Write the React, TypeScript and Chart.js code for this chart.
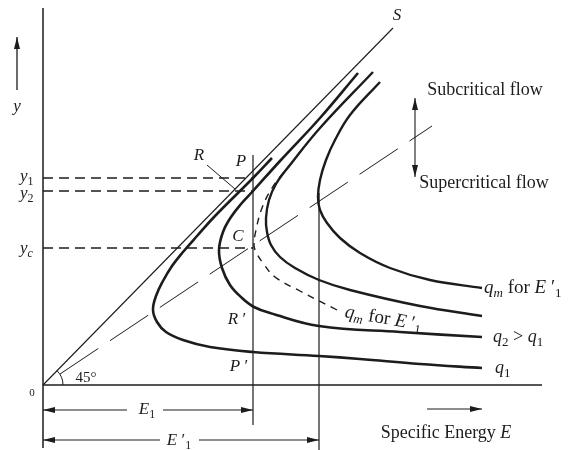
import { useEffect, useRef } from 'react';
import { Chart, registerables } from 'chart.js';

Chart.register(...registerables);

type Pt = [number, number];

// Specific energy E (horizontal) against depth y (vertical), in drawing units.
const q1Curve: Pt[] = [
  [439, 17], [377, 21], [317, 26], [276, 29], [210, 33], [167, 38], [140, 45], [123, 53],
  [114, 63], [110, 75], [113, 89], [120, 104], [129, 119], [140, 133], [154, 149], [172, 169],
  [210, 207], [229, 227],
];
const q2Curve: Pt[] = [
  [439, 48], [357, 53], [276, 59], [227, 72], [211, 78], [199, 87], [187, 100], [179, 117],
  [176, 135], [180, 153], [188, 168], [198, 181], [210, 194], [237, 224], [277, 267], [315, 312],
];
const qmE1Curve: Pt[] = [
  [294, 75], [257, 94], [232, 108], [220, 122], [213, 133], [211, 140], [213, 155], [219, 177],
  [229, 197], [241, 213], [251, 225],
];
const midCurve: Pt[] = [
  [439, 69], [377, 79], [307, 95], [276, 105], [252, 117], [237, 128], [228, 140], [224, 153],
  [223, 167], [226, 185], [233, 201], [247, 220], [277, 257], [330, 313],
];
const qmE1PrimeCurve: Pt[] = [
  [439, 97], [387, 105], [347, 117], [317, 132], [297, 147], [284, 162], [277, 175], [275, 188],
  [277, 205], [283, 225], [292, 245], [307, 270], [337, 303],
];

// Straight construction lines
const sLine: Pt[] = [[0, 0], [350, 357]];
const criticalLine: Pt[] = [[17, 11], [389, 259]];
const yAxis: Pt[] = [[0, 377], [0, -63]];
const xAxis: Pt[] = [[0, 0], [499, 0]];

// Energies and depths marked on the axes
const E1 = 210;
const E1prime = 276;
const depthY1 = 207;
const depthY2 = 194;
const depthYc = 137;

const e1Top = 230;
const e1Bottom = -40;
const e1PrimeTop = 192;
const e1PrimeBottom = -66;
const dimE1 = -25;
const dimE1prime = -55;

type Seg = { t: string; it?: boolean; sub?: boolean };
type Label = { at: Pt; segs: Seg[]; size: number; align: 'left' | 'center'; rot?: number };

const qmForE1p: Seg[] = [
  { t: 'q', it: true }, { t: 'm', it: true, sub: true }, { t: ' for ' },
  { t: 'E', it: true }, { t: ' \u2032' }, { t: '1', sub: true },
];

const labels: Label[] = [
  { at: [354, 369], segs: [{ t: 'S', it: true }], size: 17, align: 'center' },
  { at: [-26, 278], segs: [{ t: 'y', it: true }], size: 17, align: 'center' },
  { at: [-23, 208], segs: [{ t: 'y', it: true }, { t: '1', sub: true }], size: 17, align: 'left' },
  { at: [-23, 191], segs: [{ t: 'y', it: true }, { t: '2', sub: true }], size: 17, align: 'left' },
  { at: [-23, 136], segs: [{ t: 'y', it: true }, { t: 'c', it: true, sub: true }], size: 17, align: 'left' },
  { at: [-11, -8], segs: [{ t: '0' }], size: 11, align: 'center' },
  { at: [156, 229], segs: [{ t: 'R', it: true }], size: 17, align: 'center' },
  { at: [198, 223], segs: [{ t: 'P', it: true }], size: 17, align: 'center' },
  { at: [195, 148], segs: [{ t: 'C', it: true }], size: 17, align: 'center' },
  { at: [194, 65], segs: [{ t: 'R', it: true }, { t: ' \u2032' }], size: 17, align: 'center' },
  { at: [196, 18], segs: [{ t: 'P', it: true }, { t: ' \u2032' }], size: 17, align: 'center' },
  { at: [43, 7], segs: [{ t: '45\u00b0' }], size: 15, align: 'center' },
  { at: [104, -25], segs: [{ t: 'E', it: true }, { t: '1', sub: true }], size: 17, align: 'center' },
  { at: [136, -56], segs: [{ t: 'E', it: true }, { t: ' \u2032' }, { t: '1', sub: true }], size: 17, align: 'center' },
  { at: [403, -48], segs: [{ t: 'Specific Energy ' }, { t: 'E', it: true }], size: 18, align: 'center' },
  { at: [442, 295], segs: [{ t: 'Subcritical flow' }], size: 18, align: 'center' },
  { at: [441, 202], segs: [{ t: 'Supercritical flow' }], size: 18, align: 'center' },
  { at: [441, 97], segs: qmForE1p, size: 19, align: 'left' },
  { at: [302, 73], segs: qmForE1p, size: 19, align: 'left', rot: 0.17 },
  { at: [450, 48], segs: [{ t: 'q', it: true }, { t: '2', sub: true }, { t: ' > ' }, { t: 'q', it: true }, { t: '1', sub: true }], size: 18, align: 'left' },
  { at: [452, 17], segs: [{ t: 'q', it: true }, { t: '1', sub: true }], size: 18, align: 'left' },
];

// Arrow tips: [tip, tail]
const arrows: [Pt, Pt][] = [
  [[-26, 348], [-26, 295]],
  [[0, dimE1], [30, dimE1]],
  [[E1, dimE1], [E1 - 30, dimE1]],
  [[0, dimE1prime], [30, dimE1prime]],
  [[E1prime, dimE1prime], [E1prime - 30, dimE1prime]],
  [[439, -24], [384, -24]],
  [[372, 287], [372, 248]],
  [[372, 208], [372, 248]],
];

const INK = '#1c1c1c';
const FONT = '"Liberation Serif", "Times New Roman", serif';

const toXY = (pts: Pt[]) => pts.map(([x, y]) => ({ x, y }));

function lineSet(pts: Pt[], width: number, extra: Record<string, unknown> = {}) {
  return {
    data: toXY(pts),
    showLine: true,
    borderColor: INK,
    borderWidth: width,
    pointRadius: 0,
    fill: false,
    clip: false,
    tension: 0,
    ...extra,
  };
}

function drawRich(ctx: CanvasRenderingContext2D, segs: Seg[], x: number, y: number, size: number, align: 'left' | 'center', rot = 0) {
  const fontFor = (s: Seg) => `${s.it ? 'italic ' : ''}${s.sub ? Math.round(size * 0.7) : size}px ${FONT}`;
  let w = 0;
  for (const s of segs) {
    ctx.font = fontFor(s);
    w += ctx.measureText(s.t).width;
  }
  ctx.save();
  ctx.translate(x, y);
  ctx.rotate(rot);
  ctx.fillStyle = INK;
  ctx.textBaseline = 'middle';
  let cx = align === 'center' ? -w / 2 : 0;
  for (const s of segs) {
    ctx.font = fontFor(s);
    ctx.fillText(s.t, cx, s.sub ? size * 0.3 : 0);
    cx += ctx.measureText(s.t).width;
  }
  ctx.restore();
}

const annotations = {
  id: 'annotations',
  beforeDraw(chart: Chart) {
    const { ctx, width, height } = chart;
    ctx.save();
    ctx.fillStyle = '#ffffff';
    ctx.fillRect(0, 0, width, height);
    ctx.restore();
  },
  afterDatasetsDraw(chart: Chart) {
    const { ctx } = chart;
    const sx = chart.scales.x;
    const sy = chart.scales.y;
    const px = (p: Pt): Pt => [sx.getPixelForValue(p[0]), sy.getPixelForValue(p[1])];

    // arrowheads
    ctx.save();
    ctx.fillStyle = INK;
    for (const [tip, tail] of arrows) {
      const [tx, ty] = px(tip);
      const [bx, by] = px(tail);
      const len = Math.hypot(tx - bx, ty - by);
      const ux = (tx - bx) / len;
      const uy = (ty - by) / len;
      const L = 12;
      const H = 3;
      ctx.beginPath();
      ctx.moveTo(tx, ty);
      ctx.lineTo(tx - ux * L - uy * H, ty - uy * L + ux * H);
      ctx.lineTo(tx - ux * L + uy * H, ty - uy * L - ux * H);
      ctx.closePath();
      ctx.fill();
    }

    // 45 degree arc at the origin
    const [ox, oy] = px([0, 0]);
    const [ex, ey] = px(sLine[1]);
    const ang = Math.atan2(ey - oy, ex - ox);
    ctx.strokeStyle = INK;
    ctx.lineWidth = 1;
    ctx.beginPath();
    ctx.arc(ox, oy, 20, ang, 0);
    ctx.stroke();
    ctx.restore();

    for (const l of labels) {
      const [lx, ly] = px(l.at);
      drawRich(ctx, l.segs, lx, ly, l.size, l.align, l.rot ?? 0);
    }
  },
};

export default function App() {
  const ref = useRef<HTMLCanvasElement | null>(null);

  useEffect(() => {
    if (!ref.current) return;
    const dash = { borderDash: [10, 6] };
    const chart = new Chart(ref.current, {
      type: 'scatter',
      data: {
        datasets: [
          lineSet(yAxis, 1.5),
          lineSet(xAxis, 1.5),
          lineSet(sLine, 1.1),
          lineSet(criticalLine, 1, { borderDash: [46, 14] }),
          lineSet([[0, depthY1], [E1, depthY1]], 1.4, dash),
          lineSet([[0, depthY2], [E1, depthY2]], 1.4, dash),
          lineSet([[0, depthYc], [E1, depthYc]], 1.4, dash),
          lineSet([[E1, e1Top], [E1, e1Bottom]], 1.2),
          lineSet([[E1prime, e1PrimeTop], [E1prime, e1PrimeBottom]], 1.2),
          lineSet([[0, dimE1], [84, dimE1]], 1.1),
          lineSet([[120, dimE1], [E1, dimE1]], 1.1),
          lineSet([[0, dimE1prime], [117, dimE1prime]], 1.1),
          lineSet([[156, dimE1prime], [E1prime, dimE1prime]], 1.1),
          lineSet([[384, -24], [439, -24]], 1.1),
          lineSet([[372, 287], [372, 208]], 1.1),
          lineSet([[-26, 348], [-26, 295]], 1.3),
          lineSet([[164, 220], [192, 196]], 1),
          lineSet(q1Curve, 2.6, { tension: 0.4 }),
          lineSet(q2Curve, 2.6, { tension: 0.4 }),
          lineSet(midCurve, 2.4, { tension: 0.4 }),
          lineSet(qmE1PrimeCurve, 2.4, { tension: 0.4 }),
          lineSet(qmE1Curve, 1.4, { tension: 0.4, borderDash: [7, 6] }),
        ],
      },
      options: {
        responsive: false,
        animation: false,
        devicePixelRatio: 1,
        layout: { padding: 0 },
        plugins: { legend: { display: false }, tooltip: { enabled: false } },
        scales: {
          x: { type: 'linear', min: -43, max: 526, display: false },
          y: { type: 'linear', min: -65, max: 385, display: false },
        },
      },
      plugins: [annotations],
    });
    return () => chart.destroy();
  }, []);

  return (
    <div style={{ position: 'fixed', left: 0, top: 0, width: 569, height: 450, background: '#fff' }}>
      <canvas ref={ref} width={569} height={450} style={{ width: 569, height: 450, display: 'block' }} />
    </div>
  );
}
